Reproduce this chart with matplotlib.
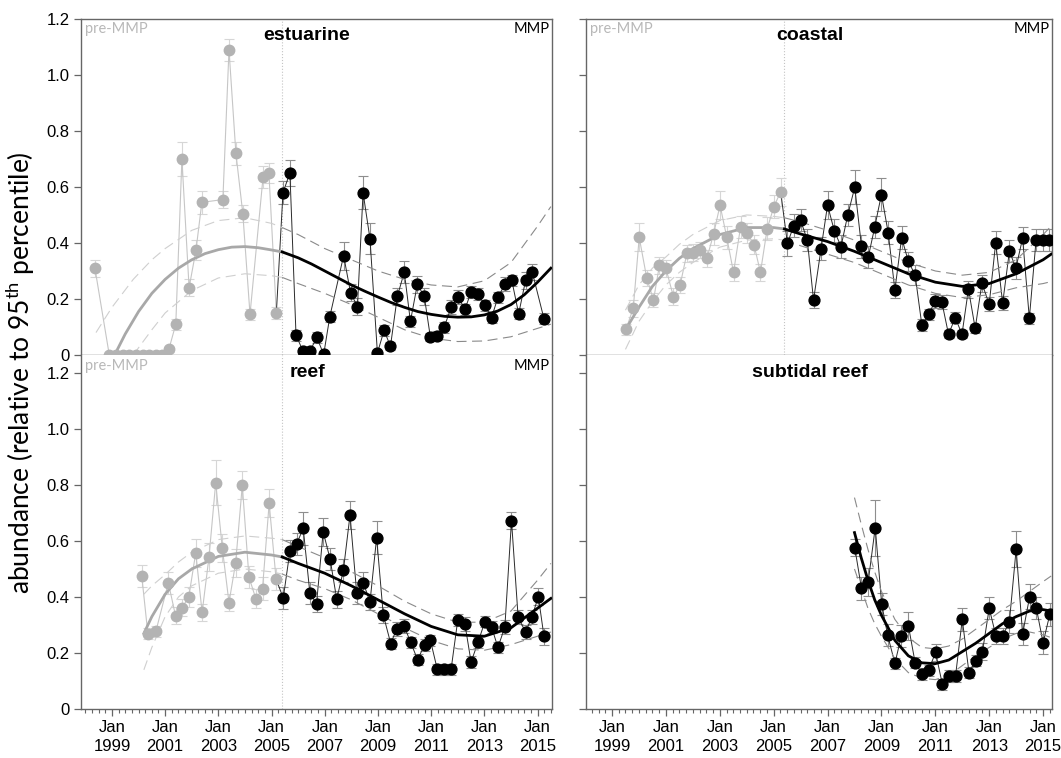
import numpy as np
import matplotlib as m
m.use("Agg")
import matplotlib.pyplot as plt
from matplotlib.ticker import MultipleLocator

# start of the monitoring programme (dotted line)
MMP_START = 2005.4

# ---- estuarine ----
est_x = [1998.36, 1998.9, 1999.15, 1999.4, 1999.65, 1999.9, 2000.15, 2000.4, 2000.65, 2000.9,
         2001.14, 2001.4, 2001.63, 2001.9, 2002.16, 2002.38, 2003.17, 2003.4, 2003.66, 2003.92,
         2004.19, 2004.68, 2004.9, 2005.18, 2005.43, 2005.69, 2005.92, 2006.18, 2006.44, 2006.70,
         2006.96, 2007.19, 2007.71, 2007.97, 2008.23, 2008.44, 2008.70, 2008.98, 2009.23, 2009.47,
         2009.73, 2009.99, 2010.22, 2010.48, 2010.74, 2010.97, 2011.23, 2011.49, 2011.75, 2012.01,
         2012.27, 2012.50, 2012.76, 2013.02, 2013.27, 2013.51, 2013.77, 2014.03, 2014.29, 2014.55,
         2014.80, 2015.24]
est_y = [0.31, 0, 0, 0, 0, 0, 0, 0, 0, 0,
         0.02, 0.11, 0.70, 0.24, 0.375, 0.545, 0.555, 1.09, 0.72, 0.505,
         0.145, 0.635, 0.65, 0.15, 0.58, 0.65, 0.07, 0.015, 0.013, 0.063,
         0.002, 0.137, 0.355, 0.222, 0.173, 0.58, 0.415, 0.007, 0.088, 0.031,
         0.21, 0.296, 0.12, 0.252, 0.21, 0.064, 0.069, 0.099, 0.17, 0.208,
         0.163, 0.225, 0.218, 0.178, 0.133, 0.206, 0.252, 0.267, 0.147, 0.267,
         0.296, 0.13]
est_e = [0.03, 0, 0, 0, 0, 0, 0, 0, 0, 0,
         0.01, 0.02, 0.06, 0.03, 0.035, 0.04, 0.03, 0.04, 0.04, 0.03,
         0.02, 0.04, 0.035, 0.02, 0.04, 0.045, 0.02, 0.01, 0.01, 0.02,
         0.005, 0.02, 0.05, 0.03, 0.03, 0.06, 0.055, 0.005, 0.02, 0.015,
         0.03, 0.04, 0.02, 0.03, 0.03, 0.015, 0.015, 0.02, 0.025, 0.025,
         0.02, 0.02, 0.02, 0.02, 0.02, 0.02, 0.025, 0.02, 0.02, 0.03,
         0.03, 0.02]
est_fit_x = [1999.1, 1999.5, 2000, 2000.5, 2001, 2001.5, 2002, 2002.5, 2003, 2003.5,
             2004, 2004.5, 2005, 2005.4, 2006, 2006.5, 2007, 2007.5, 2008, 2008.5,
             2009, 2009.5, 2010, 2010.5, 2011, 2011.5, 2012, 2012.5, 2013, 2013.5,
             2014, 2014.5, 2015, 2015.5]
est_fit_y = [0.0, 0.075, 0.155, 0.22, 0.27, 0.31, 0.34, 0.362, 0.376, 0.385,
             0.387, 0.383, 0.375, 0.368, 0.347, 0.325, 0.30, 0.275, 0.25, 0.228,
             0.207, 0.187, 0.17, 0.155, 0.145, 0.138, 0.135, 0.136, 0.143, 0.157,
             0.18, 0.215, 0.26, 0.31]
est_band_x = [1998.4, 1999, 1999.8, 2000.5, 2001, 2002, 2003, 2004, 2005, 2005.4,
              2006, 2007, 2008, 2009, 2010, 2011, 2012, 2013, 2014, 2015, 2015.5]
est_hi = [0.08, 0.17, 0.27, 0.34, 0.38, 0.445, 0.48, 0.49, 0.47, 0.455,
          0.43, 0.38, 0.34, 0.30, 0.27, 0.25, 0.243, 0.265, 0.33, 0.46, 0.53]
est_lo = [np.nan, np.nan, 0.0, 0.09, 0.15, 0.23, 0.275, 0.29, 0.283, 0.277,
          0.255, 0.22, 0.18, 0.135, 0.09, 0.06, 0.048, 0.05, 0.065, 0.095, 0.11]

# ---- coastal ----
coa_x = [1999.52, 1999.79, 2000.01, 2000.29, 2000.54, 2000.76, 2001.0, 2001.28, 2001.53, 2001.78,
         2002.02, 2002.27, 2002.52, 2002.77, 2003.01, 2003.26, 2003.51, 2003.77, 2004.02, 2004.27,
         2004.51, 2004.76, 2005.01, 2005.26, 2005.51, 2005.75, 2006.0, 2006.25, 2006.48, 2006.76,
         2007.0, 2007.25, 2007.5, 2007.75, 2008.01, 2008.26, 2008.51, 2008.75, 2009.0, 2009.25,
         2009.5, 2009.75, 2010.0, 2010.25, 2010.5, 2010.75, 2011.0, 2011.24, 2011.49, 2011.74,
         2011.99, 2012.23, 2012.48, 2012.73, 2013.0, 2013.24, 2013.5, 2013.75, 2013.99, 2014.24,
         2014.49, 2014.74, 2014.99, 2015.23]
coa_y = [0.092, 0.167, 0.42, 0.275, 0.196, 0.32, 0.31, 0.208, 0.25, 0.363,
         0.365, 0.375, 0.345, 0.431, 0.535, 0.42, 0.295, 0.456, 0.435, 0.394,
         0.295, 0.451, 0.53, 0.583, 0.399, 0.462, 0.481, 0.41, 0.196, 0.38,
         0.535, 0.444, 0.387, 0.5, 0.599, 0.388, 0.349, 0.456, 0.573, 0.437,
         0.232, 0.419, 0.334, 0.286, 0.107, 0.145, 0.193, 0.19, 0.074, 0.133,
         0.074, 0.235, 0.095, 0.256, 0.181, 0.401, 0.185, 0.371, 0.31, 0.417,
         0.131, 0.411, 0.411, 0.411]
coa_e = [0.02, 0.03, 0.05, 0.03, 0.025, 0.03, 0.03, 0.03, 0.03, 0.03,
         0.03, 0.03, 0.03, 0.04, 0.05, 0.04, 0.03, 0.04, 0.035, 0.035,
         0.03, 0.04, 0.04, 0.05, 0.045, 0.04, 0.04, 0.04, 0.03, 0.04,
         0.05, 0.04, 0.04, 0.04, 0.06, 0.04, 0.04, 0.04, 0.06, 0.04,
         0.03, 0.04, 0.035, 0.035, 0.02, 0.02, 0.025, 0.025, 0.015, 0.02,
         0.015, 0.03, 0.015, 0.03, 0.025, 0.04, 0.025, 0.04, 0.04, 0.04,
         0.02, 0.04, 0.04, 0.04]
coa_fit_x = [1999.5, 2000, 2000.5, 2001, 2001.5, 2002, 2003, 2004, 2005, 2005.4,
             2006, 2007, 2008, 2009, 2010, 2011, 2012, 2013, 2014, 2015, 2015.3]
coa_fit_y = [0.09, 0.17, 0.245, 0.30, 0.345, 0.38, 0.43, 0.455, 0.455, 0.45,
             0.432, 0.405, 0.37, 0.33, 0.29, 0.26, 0.245, 0.255, 0.29, 0.34, 0.36]
coa_hi = [0.16, 0.25, 0.31, 0.35, 0.395, 0.43, 0.48, 0.5, 0.495, 0.49,
          0.475, 0.445, 0.41, 0.37, 0.33, 0.30, 0.285, 0.295, 0.34, 0.43, 0.46]
coa_lo = [0.02, 0.12, 0.19, 0.25, 0.295, 0.33, 0.385, 0.41, 0.415, 0.41,
          0.39, 0.36, 0.33, 0.29, 0.25, 0.22, 0.205, 0.215, 0.24, 0.255, 0.262]

# ---- reef ----
ree_x = [2000.12, 2000.35, 2000.65, 2001.12, 2001.39, 2001.64, 2001.89, 2002.15, 2002.39, 2002.65,
         2002.9, 2003.15, 2003.4, 2003.65, 2003.9, 2004.15, 2004.41, 2004.66, 2004.91, 2005.17,
         2005.44, 2005.69, 2005.94, 2006.19, 2006.44, 2006.69, 2006.94, 2007.2, 2007.45, 2007.7,
         2007.95, 2008.2, 2008.45, 2008.7, 2008.95, 2009.2, 2009.48, 2009.71, 2009.98, 2010.23,
         2010.49, 2010.75, 2010.97, 2011.23, 2011.49, 2011.75, 2012.0, 2012.27, 2012.5, 2012.76,
         2013.02, 2013.27, 2013.51, 2013.77, 2014.02, 2014.27, 2014.55, 2014.78, 2015.03, 2015.24]
ree_y = [0.476, 0.269, 0.277, 0.451, 0.333, 0.362, 0.401, 0.558, 0.345, 0.544,
         0.808, 0.574, 0.38, 0.522, 0.799, 0.471, 0.394, 0.43, 0.735, 0.464,
         0.396, 0.564, 0.589, 0.645, 0.415, 0.375, 0.633, 0.536, 0.392, 0.495,
         0.693, 0.415, 0.451, 0.382, 0.612, 0.336, 0.234, 0.287, 0.297, 0.238,
         0.176, 0.229, 0.246, 0.142, 0.142, 0.142, 0.318, 0.303, 0.168, 0.238,
         0.312, 0.293, 0.22, 0.293, 0.673, 0.327, 0.275, 0.327, 0.401, 0.26]
ree_e = [0.04, 0.02, 0.02, 0.04, 0.03, 0.03, 0.035, 0.05, 0.03, 0.05,
         0.08, 0.05, 0.03, 0.05, 0.05, 0.04, 0.035, 0.04, 0.05, 0.04,
         0.04, 0.04, 0.04, 0.06, 0.04, 0.03, 0.05, 0.04, 0.03, 0.04,
         0.05, 0.04, 0.04, 0.03, 0.06, 0.03, 0.02, 0.025, 0.025, 0.02,
         0.02, 0.02, 0.02, 0.02, 0.02, 0.02, 0.02, 0.025, 0.02, 0.02,
         0.02, 0.02, 0.02, 0.025, 0.03, 0.025, 0.025, 0.025, 0.03, 0.03]
ree_fit_x = [2000.2, 2000.5, 2001, 2001.5, 2002, 2003, 2004, 2005, 2005.4, 2006,
             2007, 2008, 2009, 2010, 2011, 2012, 2013, 2014, 2015, 2015.5]
ree_fit_y = [0.27, 0.33, 0.41, 0.465, 0.5, 0.545, 0.56, 0.55, 0.543, 0.52,
             0.485, 0.44, 0.39, 0.34, 0.295, 0.265, 0.26, 0.29, 0.36, 0.395]
ree_hi = [0.41, 0.44, 0.48, 0.525, 0.56, 0.605, 0.618, 0.61, 0.605, 0.58,
          0.54, 0.49, 0.44, 0.385, 0.34, 0.31, 0.31, 0.35, 0.46, 0.52]
ree_lo = [0.14, 0.22, 0.33, 0.4, 0.44, 0.485, 0.5, 0.49, 0.482, 0.46,
          0.43, 0.39, 0.34, 0.29, 0.245, 0.215, 0.21, 0.23, 0.26, 0.275]

# ---- subtidal reef ----
sub_x = [2008.01, 2008.26, 2008.51, 2008.77, 2009.01, 2009.23, 2009.5, 2009.74, 2010.0, 2010.25,
         2010.5, 2010.75, 2011.01, 2011.26, 2011.5, 2011.75, 2012.0, 2012.25, 2012.5, 2012.75,
         2013.0, 2013.25, 2013.5, 2013.75, 2014.0, 2014.24, 2014.5, 2014.75, 2015.0, 2015.25]
sub_y = [0.576, 0.431, 0.455, 0.648, 0.375, 0.264, 0.163, 0.261, 0.298, 0.166,
         0.125, 0.139, 0.202, 0.089, 0.118, 0.118, 0.32, 0.13, 0.173, 0.205,
         0.36, 0.261, 0.261, 0.312, 0.571, 0.268, 0.401, 0.36, 0.237, 0.338]
sub_e = [0.03, 0.04, 0.05, 0.1, 0.04, 0.04, 0.02, 0.04, 0.05, 0.02,
         0.02, 0.02, 0.03, 0.02, 0.02, 0.02, 0.04, 0.02, 0.02, 0.03,
         0.04, 0.03, 0.03, 0.04, 0.065, 0.04, 0.045, 0.04, 0.04, 0.04]
sub_fit_x = [2008.0, 2008.25, 2008.5, 2008.75, 2009.0, 2009.5, 2010.0, 2010.5, 2011.0, 2011.5,
             2012.0, 2012.5, 2013.0, 2013.5, 2014.0, 2014.5, 2015.0, 2015.3]
sub_fit_y = [0.63, 0.54, 0.46, 0.39, 0.335, 0.245, 0.19, 0.165, 0.162, 0.175,
             0.205, 0.235, 0.27, 0.305, 0.33, 0.35, 0.355, 0.35]
sub_hi = [0.755, 0.66, 0.57, 0.49, 0.42, 0.32, 0.255, 0.22, 0.215, 0.225,
          0.25, 0.285, 0.32, 0.355, 0.385, 0.42, 0.455, 0.475]
sub_lo = [0.5, 0.43, 0.36, 0.305, 0.26, 0.18, 0.13, 0.11, 0.105, 0.12,
          0.155, 0.19, 0.22, 0.25, 0.27, 0.275, 0.265, 0.255]

y_ticks = [0, 0.2, 0.4, 0.6, 0.8, 1.0, 1.2]
y_labels = ["0", "0.2", "0.4", "0.6", "0.8", "1.0", "1.2"]
x_ticks = [1999, 2001, 2003, 2005, 2007, 2009, 2011, 2013, 2015]
x_labels = ["Jan\n%d" % t for t in x_ticks]

PRE_PT = "#b3b3b3"
PRE_LN = "#c6c6c6"
PRE_ERR = "#d6d6d6"
POST_LN = "#2a2a2a"
POST_ERR = "#8e8e8e"
SPINE = "#666666"

plt.rcParams["font.family"] = ["Liberation Sans", "DejaVu Sans"]
plt.rcParams["mathtext.default"] = "regular"

fig = plt.figure(figsize=(10.61, 7.58), dpi=100)


def draw(ax, x, y, e, fx, fy, bx, hi, lo, title, labels_mmp, show_line):
    x, y, e = np.array(x), np.array(y), np.array(e)
    fx, fy = np.array(fx), np.array(fy)
    bx, hi, lo = np.array(bx), np.array(hi), np.array(lo)
    pre = x < MMP_START
    post = ~pre
    # error bars
    if pre.any():
        ax.errorbar(x[pre], y[pre], yerr=e[pre], fmt="none", ecolor=PRE_ERR,
                    elinewidth=0.8, capsize=3.5, capthick=0.8, zorder=1)
    ax.errorbar(x[post], y[post], yerr=e[post], fmt="none", ecolor=POST_ERR,
                elinewidth=0.8, capsize=3.5, capthick=0.8, zorder=1)
    # connecting lines
    if pre.any():
        ax.plot(x[pre], y[pre], color=PRE_LN, lw=0.8, zorder=2)
        i0 = np.argmax(post) - 1
        ax.plot(x[i0:], y[i0:], color=POST_LN, lw=0.7, zorder=2)
    else:
        ax.plot(x, y, color=POST_LN, lw=0.7, zorder=2)
    # trend and confidence band
    fp = fx <= MMP_START
    fq = fx >= MMP_START
    bp = bx <= MMP_START
    bq = bx >= MMP_START
    if fp.any():
        ax.plot(fx[fp], fy[fp], color="#a8a8a8", lw=2.0, zorder=3)
        ax.plot(bx[bp], hi[bp], color="#cfcfcf", lw=0.8, dashes=(9, 5), zorder=3)
        ax.plot(bx[bp], lo[bp], color="#cfcfcf", lw=0.8, dashes=(9, 5), zorder=3)
    ax.plot(fx[fq], fy[fq], color="black", lw=2.0, zorder=3)
    ax.plot(bx[bq], hi[bq], color="#8a8a8a", lw=0.8, dashes=(9, 5), zorder=3)
    ax.plot(bx[bq], lo[bq], color="#8a8a8a", lw=0.8, dashes=(9, 5), zorder=3)
    # points
    ax.plot(x[pre], y[pre], "o", ms=7.5, color=PRE_PT, mec=PRE_PT, zorder=4)
    ax.plot(x[post], y[post], "o", ms=7.8, color="black", mec="black", zorder=4)

    if show_line:
        ax.axvline(MMP_START, color="#c4c4c4", lw=0.8, ls=":", zorder=0)
    ax.text(0.48, 0.952, title, transform=ax.transAxes, ha="center", va="center",
            fontsize=14, fontweight="bold")
    if labels_mmp:
        ax.text(0.008, 0.99, "pre-MMP", transform=ax.transAxes, ha="left", va="top",
                fontsize=10.5, color="#b8b8b8", family=["Lato", "DejaVu Sans"])
        ax.text(0.995, 0.99, "MMP", transform=ax.transAxes, ha="right", va="top",
                fontsize=10.5, color="black", family=["Lato", "DejaVu Sans"])


def style(ax, xlim, ylim, show_x, show_y):
    ax.set_xlim(*xlim)
    ax.set_ylim(*ylim)
    ax.set_yticks(y_ticks)
    ax.set_xticks(x_ticks)
    ax.xaxis.set_minor_locator(MultipleLocator(0.25))
    if show_y:
        ax.set_yticklabels(y_labels, fontsize=12)
    else:
        ax.set_yticklabels([])
    if show_x:
        ax.set_xticklabels(x_labels, fontsize=12, linespacing=1.3)
    else:
        ax.set_xticklabels([])
    ax.tick_params(axis="both", which="major", direction="out", length=5, width=0.9,
                   color=SPINE, pad=3)
    ax.tick_params(axis="x", which="minor", direction="out", length=3, width=0.8,
                   color=SPINE)
    for s in ax.spines.values():
        s.set_color(SPINE)
        s.set_linewidth(1.0)


LX = (1997.835, 2015.54)
RX = (1998.035, 2015.33)

ax1 = fig.add_axes([0.0763, 0.5317, 0.4439, 0.4433])
ax2 = fig.add_axes([0.5523, 0.5317, 0.4392, 0.4433])
ax3 = fig.add_axes([0.0763, 0.0646, 0.4439, 0.4670])
ax4 = fig.add_axes([0.5523, 0.0646, 0.4392, 0.4670])

draw(ax1, est_x, est_y, est_e, est_fit_x, est_fit_y, est_band_x, est_hi, est_lo,
     "estuarine", True, True)
draw(ax2, coa_x, coa_y, coa_e, coa_fit_x, coa_fit_y, coa_fit_x, coa_hi, coa_lo,
     "coastal", True, True)
draw(ax3, ree_x, ree_y, ree_e, ree_fit_x, ree_fit_y, ree_fit_x, ree_hi, ree_lo,
     "reef", True, True)
draw(ax4, sub_x, sub_y, sub_e, sub_fit_x, sub_fit_y, sub_fit_x, sub_hi, sub_lo,
     "subtidal reef", False, False)

style(ax1, LX, (0, 1.2), False, True)
style(ax2, RX, (0, 1.2), False, False)
style(ax3, LX, (0, 1.264), True, True)
style(ax4, RX, (0, 1.264), True, False)
ax3.spines["top"].set_visible(False)
ax4.spines["top"].set_visible(False)

fig.text(0.019, 0.509, "abundance (relative to 95$^{th}$ percentile)", rotation=90,
         ha="center", va="center", fontsize=19, family=["Lato", "DejaVu Sans"])

fig.savefig("out.png", dpi=100)
